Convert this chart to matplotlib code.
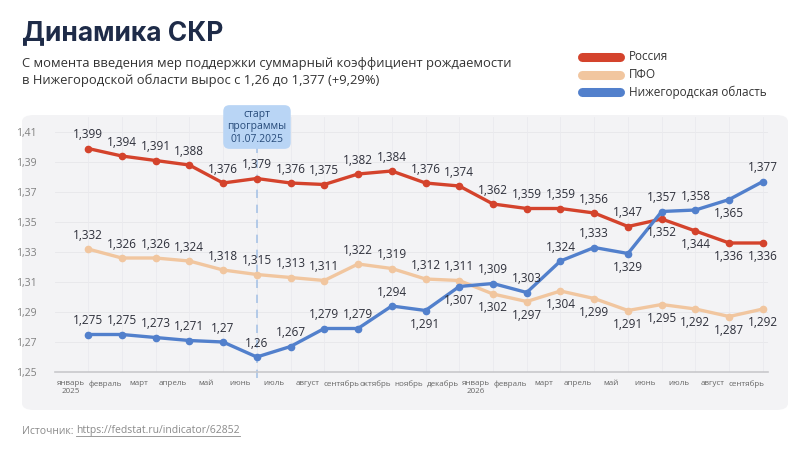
import matplotlib
matplotlib.use("Agg")
import matplotlib.pyplot as plt
from matplotlib.patches import FancyBboxPatch
from matplotlib.lines import Line2D

plt.rcParams['font.family'] = ['Open Sans', 'DejaVu Sans']

months = ['январь\n2025', 'февраль', 'март', 'апрель', 'май', 'июнь', 'июль', 'август',
          'сентябрь', 'октябрь', 'ноябрь', 'декабрь', 'январь\n2026', 'февраль', 'март',
          'апрель', 'май', 'июнь', 'июль', 'август', 'сентябрь']

russia = [1.399, 1.394, 1.391, 1.388, 1.376, 1.379, 1.376, 1.375, 1.382, 1.384, 1.376,
          1.374, 1.362, 1.359, 1.359, 1.356, 1.347, 1.352, 1.344, 1.336, 1.336]
pfo = [1.332, 1.326, 1.326, 1.324, 1.318, 1.315, 1.313, 1.311, 1.322, 1.319, 1.312,
       1.311, 1.302, 1.297, 1.304, 1.299, 1.291, 1.295, 1.292, 1.287, 1.292]
nn = [1.275, 1.275, 1.273, 1.271, 1.27, 1.26, 1.267, 1.279, 1.279, 1.294, 1.291,
      1.307, 1.309, 1.303, 1.324, 1.333, 1.329, 1.357, 1.358, 1.365, 1.377]

# label above (+1) or below (-1) the point
russia_pos = [1] * 17 + [-1, -1, -1, -1]
pfo_pos = [1] * 12 + [-1] * 9
nn_pos = [1] * 10 + [-1, -1, 1, 1, 1, 1, -1, 1, 1, -1, 1]

names = ['Россия', 'ПФО', 'Нижегородская область']
colors = ['#d4432c', '#f1c69f', '#5280cc']

yticks = [1.25, 1.27, 1.29, 1.31, 1.33, 1.35, 1.37, 1.39, 1.41]

W, H = 800, 450
fig = plt.figure(figsize=(8, 4.5), dpi=100)
fig.patch.set_facecolor('white')

# panel background
panel = FancyBboxPatch((22 / W, (H - 410) / H), (788 - 22) / W, (410 - 115) / H,
                       boxstyle='round,pad=0,rounding_size=0.015',
                       transform=fig.transFigure, facecolor='#f3f3f5',
                       edgecolor='none', zorder=-5)
fig.patches.append(panel)

ax = fig.add_axes([55 / W, (H - 372) / H, (768 - 55) / W, (372 - 117) / H])
ax.set_facecolor('none')
ax.set_zorder(1)

x = [i + 0.5 for i in range(len(months))]

for vals, pos, c in [(pfo, pfo_pos, colors[1]), (russia, russia_pos, colors[0]),
                     (nn, nn_pos, colors[2])]:
    ax.plot(x, vals, color=c, lw=2.4, marker='o', ms=4.5, zorder=3,
            solid_joinstyle='round')
    for xi, v, p in zip(x, vals, pos):
        ax.annotate(('%g' % v).replace('.', ','), (xi, v), xytext=(0, 10 * p),
                    textcoords='offset points', ha='center', va='center',
                    fontsize=8.5, color='#2d2f3a', zorder=4)

ax.set_xlim(-0.48, 20.65)
ax.set_ylim(1.25, 1.42)
ax.set_yticks(yticks)
ax.set_yticklabels([('%.2f' % t).replace('.', ',') for t in yticks],
                   fontsize=7.5, color='#808080')
ax.set_xticks(range(len(months)))
ax.set_xticklabels(months, fontsize=5.8, color='#666666', linespacing=1.1)
ax.tick_params(length=0, pad=6)
ax.tick_params(axis='y', pad=13)

for t in yticks[1:]:
    ax.axhline(t, color='#e6e6ea', lw=0.6, zorder=1)
for xi in x:
    ax.axvline(xi, color='#eaeaee', lw=0.6, zorder=1)

for s in ['top', 'right', 'left']:
    ax.spines[s].set_visible(False)
ax.spines['bottom'].set_color('#c8c8cc')
ax.spines['bottom'].set_linewidth(1.2)

# program start marker
ax.plot([5.5, 5.5], [1.246, 1.42], color='#a8c3e6', lw=1.2, ls=(0, (5, 4)),
        zorder=2, clip_on=False)
fig.text(257 / W, (H - 127) / H, 'старт\nпрограммы\n01.07.2025', ha='center',
         va='center', fontsize=7.5, color='#274b7a', linespacing=1.15, zorder=5,
         bbox=dict(boxstyle='round,pad=0.4,rounding_size=0.6',
                   facecolor='#b9d5f5', edgecolor='none'))

# titles
fig.text(22 / W, (H - 33) / H, 'Динамика СКР', fontsize=19, fontweight='bold',
         color='#1e2b48', va='center', family=['Inter', 'DejaVu Sans'])
fig.text(22 / W, (H - 72) / H,
         'С момента введения мер поддержки суммарный коэффициент рождаемости\n'
         'в Нижегородской области вырос с 1,26 до 1,377 (+9,29%)',
         fontsize=9.4, color='#333333', va='center', linespacing=1.3)

# legend
for i, (n, c) in enumerate(zip(names, colors)):
    yy = (H - (57 + 17.5 * i)) / H
    fig.add_artist(Line2D([582 / W, 620 / W], [yy, yy], transform=fig.transFigure,
                          color=c, lw=6.5, solid_capstyle='round'))
    fig.text(629 / W, yy, n, fontsize=8.5, color='#333333', va='center')

# source
src = fig.text(22 / W, (H - 431) / H, 'Источник: ', fontsize=7.5, color='#8a8a8a',
               va='center')
fig.canvas.draw()
bb = src.get_window_extent()
url = fig.text(bb.x1 / W, (H - 431) / H, 'https://fedstat.ru/indicator/62852',
               fontsize=7.5, color='#8a8a8a', va='center')
fig.canvas.draw()
ub = url.get_window_extent()
fig.add_artist(Line2D([ub.x0 / W, ub.x1 / W], [(ub.y0 + 0.5) / H, (ub.y0 + 0.5) / H],
                      transform=fig.transFigure, color='#8a8a8a', lw=0.6))

fig.savefig('out.png', dpi=100)
